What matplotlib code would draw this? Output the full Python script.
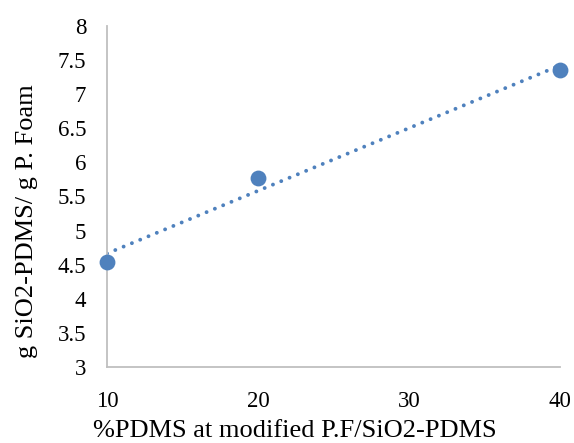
import numpy as np
import matplotlib
matplotlib.use("Agg")
import matplotlib.pyplot as plt

x_vals = [10, 20, 40]
y_vals = [4.54, 5.77, 7.36]
x_ticks = [10, 20, 30, 40]
y_ticks = [3, 3.5, 4, 4.5, 5, 5.5, 6, 6.5, 7, 7.5, 8]
x_label = "%PDMS at modified P.F/SiO2-PDMS"
y_label = "g SiO2-PDMS/ g P. Foam"

plt.rcParams['font.family'] = ['Liberation Serif', 'DejaVu Serif']
color = '#4F81BD'

W, H = 574, 443
fig = plt.figure(figsize=(W / 100, H / 100), dpi=100)
ax = fig.add_axes([107 / W, (H - 367) / H, (560 - 107) / W, (367 - 26) / H])

coef = np.polyfit(x_vals, y_vals, 1)
xl = np.array([min(x_vals), max(x_vals)])
ax.plot(xl, np.polyval(coef, xl), linestyle=(0, (0.01, 2.3)), color=color,
        linewidth=2.8, dash_capstyle='round', zorder=2)
ax.scatter(x_vals, y_vals, s=130, color=color, zorder=3, clip_on=False,
           linewidths=0)

ax.set_xlim(10, 40)
ax.set_ylim(3, 8)
ax.set_xticks(x_ticks)
ax.set_yticks(y_ticks)
ax.set_yticklabels([f"{v:g}" for v in y_ticks])
ax.tick_params(length=0, labelsize=16.5)
ax.tick_params(axis='y', pad=15)
ax.tick_params(axis='x', pad=17)
for s in ['top', 'right']:
    ax.spines[s].set_visible(False)
for s in ['left', 'bottom']:
    ax.spines[s].set_color('#BFBFBF')
    ax.spines[s].set_linewidth(1.3)

fig.text(295 / W, 1 - 431 / H, x_label, fontsize=19, ha='center', va='center')
fig.text(27 / W, 1 - 221 / H, y_label, fontsize=19, ha='center', va='center',
         rotation=90)

fig.savefig("out.png", dpi=100)
